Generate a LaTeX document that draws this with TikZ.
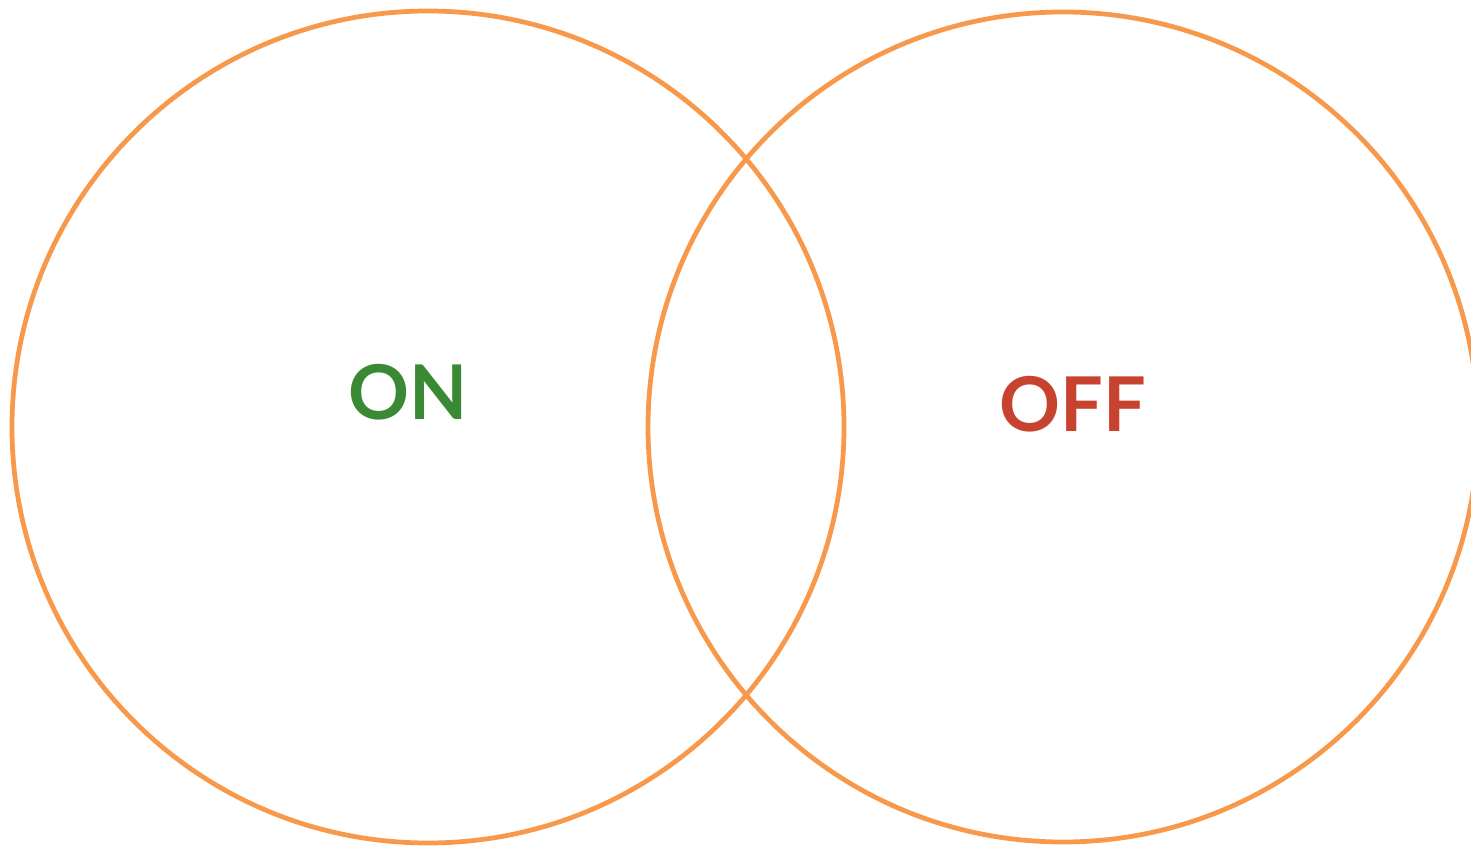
\documentclass[tikz,border=0pt]{standalone}
\usepackage{fontspec}
\setmainfont{Lato}
\usetikzlibrary{positioning}
\definecolor{vennNaranja}{HTML}{F7984A}
\definecolor{vennVerde}{HTML}{3A8A35}
\definecolor{vennRojo}{HTML}{C8432F}
\begin{document}
\begin{tikzpicture}[x=0.02cm, y=0.02cm,
      ring/.style={draw=vennNaranja, line width=2.7pt},
      lbl/.style={font=\fontsize{43}{50}\selectfont\bfseries, inner sep=0pt},
      every node/.style={align=center}]
    \useasboundingbox (0,0) rectangle (1471,846);
    \begin{scope}
      \clip (0,0) rectangle (1471,846);
      \draw[ring] (428,419) circle (416);
      \draw[ring] (1063,419) circle (415);
    \end{scope}
    \node[lbl, text=vennVerde] (on)  at (408,454) {ON};
    \node[lbl, text=vennRojo]  (off) at (1073,442) {OFF};
  \end{tikzpicture}
\end{document}
